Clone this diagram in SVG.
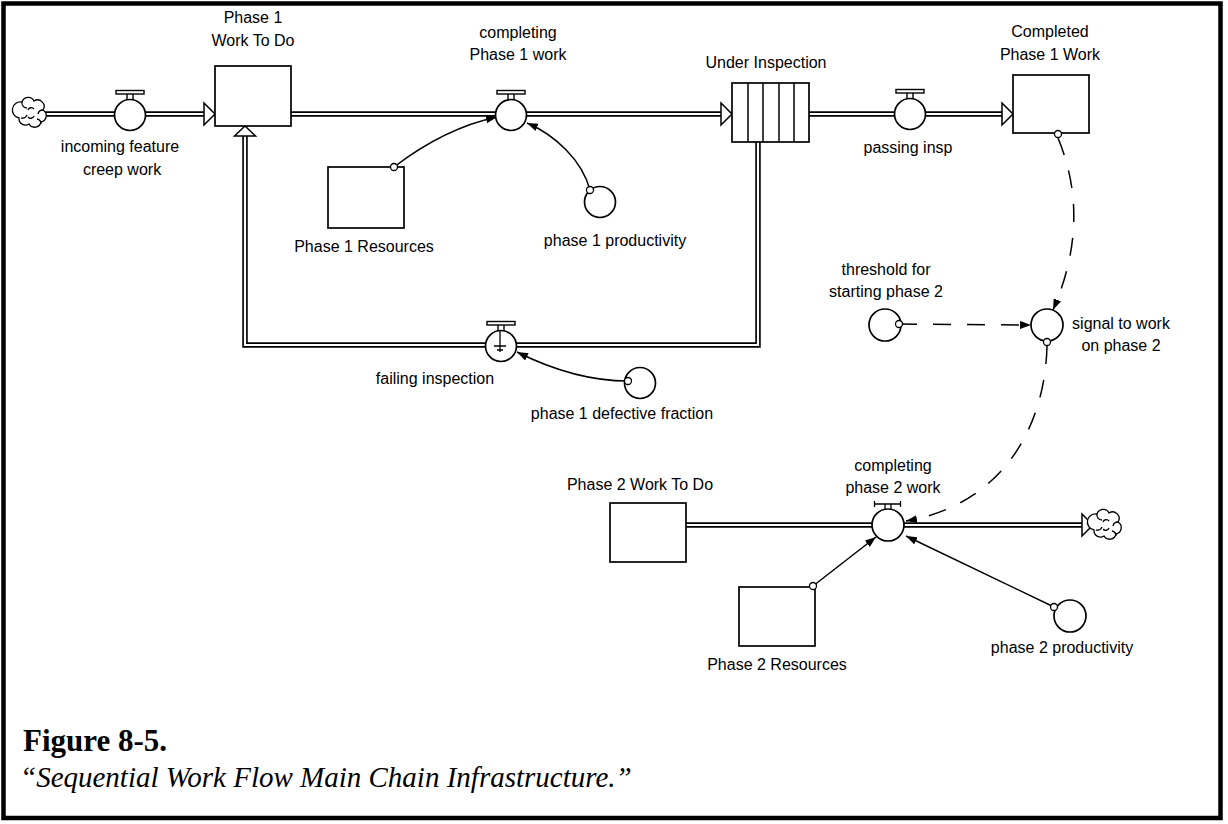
<svg xmlns="http://www.w3.org/2000/svg" xmlns:xlink="http://www.w3.org/1999/xlink" width="1228" height="824" viewBox="0 0 1228 824">
  <style>
    .lbl { font-family: "Liberation Sans", Arial, sans-serif; font-size: 16px; fill: #000; text-anchor: middle; }
    .stock { fill: #fff; stroke: #000; stroke-width: 1.7; }
    .aux { fill: #fff; stroke: #000; stroke-width: 1.7; }
    .pipeO { fill: none; stroke: #000; stroke-width: 5.5; }
    .pipeI { fill: none; stroke: #fff; stroke-width: 2.2; }
    .head { fill: #fff; stroke: #000; stroke-width: 1.5; stroke-linejoin: miter; }
    .link { fill: none; stroke: #000; stroke-width: 1.5; marker-end: url(#arr); }
    .dash { fill: none; stroke: #000; stroke-width: 1.5; stroke-dasharray: 18 16; marker-end: url(#arr); }
    .tap { fill: #fff; stroke: #000; stroke-width: 1.3; }
    .cloud { fill: #fff; stroke: #000; stroke-width: 1.3; }
    .cap1 { font-family: "Liberation Serif", "Times New Roman", serif; font-size: 31px; font-weight: bold; }
    .cap2 { font-family: "Liberation Serif", "Times New Roman", serif; font-size: 29px; font-style: italic; }
  </style>
  <defs>
    <marker id="arr" markerUnits="userSpaceOnUse" markerWidth="12" markerHeight="9" refX="11" refY="4" orient="auto">
      <path d="M0,0 L11,4 L0,8 z" fill="#000"/>
    </marker>
    <!-- rate valve: circle plus handle on top -->
    <g id="valve">
      <rect x="-14" y="-24.5" width="28" height="3.5" fill="#fff" stroke="#000" stroke-width="1.4"/>
      <path d="M-3,-21 V-15 M3,-21 V-15" stroke="#000" stroke-width="1.4"/>
      <circle r="15.5" fill="#fff" stroke="#000" stroke-width="1.7"/>
    </g>
    <!-- source / sink cloud -->
    <g id="cloud">
      <path class="cloud" d="M-9,-11 a6.5,6.5 0 0,1 12,-1 a6.5,6.5 0 0,1 9,9 a6.5,6.5 0 0,1 -2,12 a6.5,6.5 0 0,1 -12,2 a6.5,6.5 0 0,1 -10,-6 a6.5,6.5 0 0,1 3,-16 z"/>
      <path d="M-3,-3 a3.5,3.5 0 0,1 6,-1 M3,3 a3.5,3.5 0 0,1 -6,1 M-9,-11 a5,5 0 0,0 5,6 M12,-3 a5,5 0 0,0 -5,4 M-10,5 a5,5 0 0,0 6,-3 M10,11 a5,5 0 0,0 -4,-5" fill="none" stroke="#000" stroke-width="1.3"/>
    </g>
  </defs>

  <rect width="1228" height="824" fill="#fff"/>
  <rect x="3.5" y="3.5" width="1217" height="814.5" fill="none" stroke="#000" stroke-width="4.5"/>

  <!-- flow pipes -->
  <g id="pipes">
    <path class="pipeO" d="M44,114 H205"/>
    <path class="pipeI" d="M44,114 H205"/>
    <path class="pipeO" d="M291,114 H722"/>
    <path class="pipeI" d="M291,114 H722"/>
    <path class="pipeO" d="M809,114 H1003"/>
    <path class="pipeI" d="M809,114 H1003"/>
    <path class="pipeO" d="M758,142 V345 H245 V134"/>
    <path class="pipeI" d="M758,142 V345 H245 V134"/>
    <path class="pipeO" d="M686,525 H1083"/>
    <path class="pipeI" d="M686,525 H1083"/>
    <polygon class="head" points="204,103 215,114 204,125"/>
    <polygon class="head" points="721,103 732,114 721,125"/>
    <polygon class="head" points="1002,103 1013,114 1002,125"/>
    <polygon class="head" points="234.5,136 245,126 255.5,136"/>
    <polygon class="head" points="1082,514 1093,525 1082,536"/>
  </g>

  <!-- information links -->
  <g id="connectors">
    <path class="link" d="M394,167 Q445,128 497,117"/>
    <path class="link" d="M590,190 C582,160 555,135 527,123"/>
    <path class="link" d="M628,381 Q575,381 517,352"/>
    <path class="link" d="M813,586 L876,537"/>
    <path class="link" d="M1054,607 L906,536"/>
    <path class="dash" d="M899,324 L1031,325"/>
    <path class="dash" d="M1058,138 Q1092,220 1053,310"/>
    <path class="dash" d="M1047,346 C1045,430 1000,505 906,521"/>
  </g>

  <g id="source-cloud"><use xlink:href="#cloud" x="31" y="113"/></g>
  <g id="sink-cloud"><use xlink:href="#cloud" x="1106" y="525"/></g>

  <g id="incoming-feature-creep-work">
    <use xlink:href="#valve" x="130" y="115"/>
    <text class="lbl" x="120" y="152">incoming feature</text>
    <text class="lbl" x="122" y="175">creep work</text>
  </g>

  <g id="phase1-work-to-do">
    <rect class="stock" x="215" y="66" width="76" height="60"/>
    <text class="lbl" x="253" y="23">Phase 1</text>
    <text class="lbl" x="253" y="46">Work To Do</text>
  </g>

  <g id="completing-phase1-work">
    <use xlink:href="#valve" x="511" y="115"/>
    <text class="lbl" x="518" y="38">completing</text>
    <text class="lbl" x="518" y="60">Phase 1 work</text>
  </g>

  <g id="under-inspection">
    <rect class="stock" x="732" y="83" width="77" height="59"/>
    <path d="M748,83 V142 M763,83 V142 M779,83 V142 M794,83 V142" stroke="#000" stroke-width="1.5"/>
    <text class="lbl" x="766" y="68">Under Inspection</text>
  </g>

  <g id="passing-insp">
    <use xlink:href="#valve" x="910" y="114"/>
    <text class="lbl" x="908" y="153">passing insp</text>
  </g>

  <g id="completed-phase1-work">
    <rect class="stock" x="1013" y="75" width="76" height="58"/>
    <circle class="tap" cx="1058" cy="134" r="3.5"/>
    <text class="lbl" x="1050" y="37">Completed</text>
    <text class="lbl" x="1050" y="60">Phase 1 Work</text>
  </g>

  <g id="phase1-resources">
    <rect class="stock" x="328" y="167" width="76" height="61"/>
    <circle class="tap" cx="394" cy="167" r="3.5"/>
    <text class="lbl" x="364" y="252">Phase 1 Resources</text>
  </g>

  <g id="phase1-productivity">
    <circle class="aux" cx="600" cy="202" r="15.5"/>
    <circle class="tap" cx="590" cy="190" r="3.5"/>
    <text class="lbl" x="615" y="246">phase 1 productivity</text>
  </g>

  <g id="failing-inspection">
    <use xlink:href="#valve" x="501" y="346"/>
    <path d="M500,331 V352 M494,346 H506 M497,350 H503" stroke="#000" stroke-width="1.3" fill="none"/>
    <text class="lbl" x="435" y="384">failing inspection</text>
  </g>

  <g id="phase1-defective-fraction">
    <circle class="aux" cx="640" cy="383" r="15.5"/>
    <circle class="tap" cx="628" cy="381" r="3.5"/>
    <text class="lbl" x="622" y="419">phase 1 defective fraction</text>
  </g>

  <g id="threshold-for-starting-phase2">
    <circle class="aux" cx="885" cy="325" r="16"/>
    <circle class="tap" cx="899" cy="324" r="3.5"/>
    <text class="lbl" x="886" y="275">threshold for</text>
    <text class="lbl" x="886" y="297">starting phase 2</text>
  </g>

  <g id="signal-to-work-on-phase2">
    <circle class="aux" cx="1047" cy="325" r="16"/>
    <circle class="tap" cx="1047" cy="342" r="3.5"/>
    <text class="lbl" x="1121" y="329">signal to work</text>
    <text class="lbl" x="1121" y="351">on phase 2</text>
  </g>

  <g id="phase2-work-to-do">
    <rect class="stock" x="610" y="503" width="76" height="59"/>
    <text class="lbl" x="640" y="490">Phase 2 Work To Do</text>
  </g>

  <g id="completing-phase2-work">
    <path d="M874,504 H901 M874.5,501 V507 M900.5,501 V507 M885,504 V509 M891,504 V509" stroke="#000" stroke-width="1.3" fill="none"/>
    <circle class="aux" cx="888" cy="525" r="16"/>
    <text class="lbl" x="893" y="471">completing</text>
    <text class="lbl" x="893" y="493">phase 2 work</text>
  </g>

  <g id="phase2-resources">
    <rect class="stock" x="739" y="587" width="76" height="59"/>
    <circle class="tap" cx="813" cy="586" r="3.5"/>
    <text class="lbl" x="777" y="670">Phase 2 Resources</text>
  </g>

  <g id="phase2-productivity">
    <circle class="aux" cx="1070" cy="616" r="16"/>
    <circle class="tap" cx="1054" cy="607" r="3.5"/>
    <text class="lbl" x="1062" y="653">phase 2 productivity</text>
  </g>

  <g id="caption">
    <text class="cap1" x="23" y="751">Figure 8-5.</text>
    <text class="cap2" x="20" y="787">“Sequential Work Flow Main Chain Infrastructure.”</text>
  </g>
</svg>
